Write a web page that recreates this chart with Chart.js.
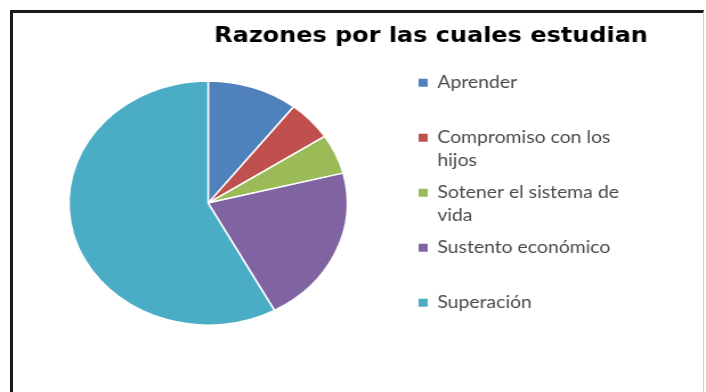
<!DOCTYPE html>
<html>
<head>
<meta charset="utf-8">
<script src="https://cdn.jsdelivr.net/npm/chart.js@4"></script>
<style>
  html, body { margin: 0; padding: 0; background: #fff; }
  body { width: 706px; height: 392px; position: relative; overflow: hidden; }
  #frame {
    position: absolute; left: 10px; top: 10px; width: 690px; height: 400px;
    border-left: 3px solid #1a1a1a; border-top: 3px solid #1a1a1a; border-right: 1px solid #d0d0d0;
  }
  /* the chart is laid out narrower and widened horizontally, giving the oval pie */
  #wrap {
    position: absolute; left: 0; top: 0; width: 619px; height: 392px;
    transform: scaleX(1.1405); transform-origin: 0 0;
  }
</style>
</head>
<body>
<div id="frame"></div>
<div id="wrap"><canvas id="c"></canvas></div>
<script>
const titleText = 'Razones por las cuales estudian';
const categories = ['Aprender', 'Compromiso con los hijos', 'Sotener el sistema de vida', 'Sustento económico', 'Superación'];
const legendLines = [['Aprender'], ['Compromiso con los', 'hijos'], ['Sotener el sistema de', 'vida'], ['Sustento económico'], ['Superación']];
const counts = [2, 1, 1, 4, 11];
const colors = ['#4F81BD', '#C0504D', '#9BBB59', '#8064A2', '#4BACC6'];

// legend column is wider than its text, leaving a gap after the pie
const LEGEND_WIDTH = 210;
const legendWidth = {
  id: 'legendWidth',
  beforeLayout(chart) {
    const lg = chart.legend;
    if (lg && !lg._fixedWidth) {
      const fit = lg.fit;
      lg.fit = function () {
        fit.call(this);
        this.width = Math.max(this.width, LEGEND_WIDTH);
      };
      lg._fixedWidth = true;
    }
  }
};

function legendLabels(chart) {
  const items = Chart.overrides.doughnut.plugins.legend.labels.generateLabels(chart);
  return items.map((item, i) => {
    const lines = legendLines[i].slice();
    // entries take two rows each so the spacing stays even; the last needs only its own
    while (i < items.length - 1 && lines.length < 2) lines.push('');
    item.text = lines;
    item.lineWidth = 0;
    return item;
  });
}

new Chart(document.getElementById('c'), {
  type: 'pie',
  data: {
    labels: categories,
    datasets: [{
      data: counts,
      backgroundColor: colors,
      borderColor: '#ffffff',
      borderWidth: 1.5,
      radius: '89%'
    }]
  },
  options: {
    responsive: true,
    maintainAspectRatio: false,
    animation: false,
    layout: { padding: { left: 7, right: 51, top: 0, bottom: 51 } },
    plugins: {
      title: {
        display: true,
        text: titleText,
        align: 'end',
        color: '#000000',
        font: { family: 'DejaVu Sans', size: 21, weight: 'bold', lineHeight: 1.2 },
        padding: { top: 24, bottom: 16 }
      },
      legend: {
        position: 'right',
        align: 'start',
        fullSize: false,
        labels: {
          boxWidth: 8,
          boxHeight: 8,
          padding: 9,
          color: '#4a4a4a',
          font: { family: 'Lato', size: 17, lineHeight: '23px' },
          generateLabels: legendLabels
        }
      },
      tooltip: { enabled: false }
    }
  },
  plugins: [legendWidth]
});
</script>
</body>
</html>
